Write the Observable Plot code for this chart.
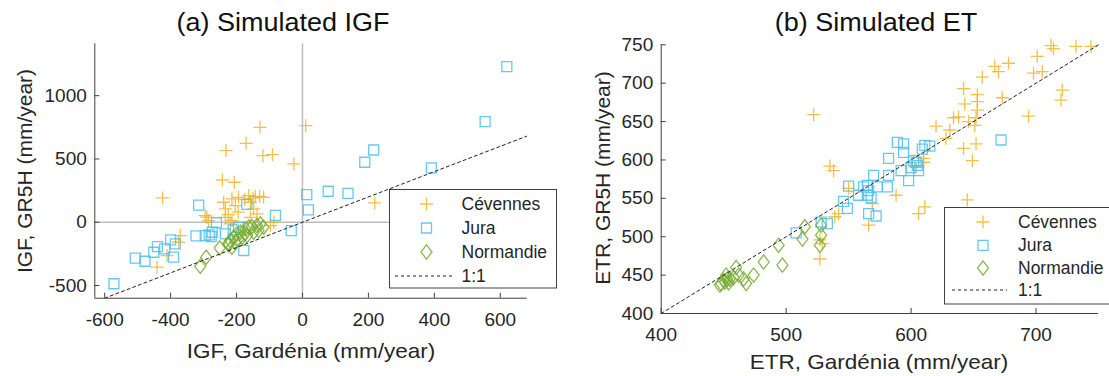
<!DOCTYPE html>
<html><head><meta charset="utf-8">
<script src="https://cdn.jsdelivr.net/npm/d3@7"></script>
<script src="https://cdn.jsdelivr.net/npm/@observablehq/plot@0.6"></script>
<style>
body{margin:0;background:#fff;overflow:hidden;font-family:"Liberation Sans",Arial,sans-serif;color:#262626}
#wrap{position:relative;width:1109px;height:376px;overflow:hidden;background:#fff}
.abs{position:absolute;white-space:nowrap;line-height:1}
.title{font-size:25px;color:#111;transform:translate(-50%,-50%) scaleX(1.08)}
.xlab{font-size:21px;transform:translate(-50%,-50%) scaleX(1.07)}
.ylab{font-size:21px;transform:translate(-50%,-50%) rotate(-90deg)}
.panel{position:absolute;top:0}
</style></head>
<body><div id="wrap"></div>
<script>
// ---------- DATA ----------
const sites = ["Cévennes", "Jura", "Normandie"];
const siteColors = ["#F2B52A", "#4DBEEE", "#77AC30"];

// (a) Simulated IGF (mm/year): x = Gardénia, y = GR5H
const igfCevX = [10,-129,-171,-232,-120,-91,-26,-243,-207,-424,219,-239,-214,-194,-163,-143,-118,-130,-158,-204,-234,-295,-285,-234,-214,-219,-148,-138,-158,-87,-97,-371,-376,-411,-441,-290,-175,-150,-195,-225];
const igfCevY = [763,750,624,566,526,534,461,334,316,193,153,158,185,197,211,203,197,205,158,132,106,53,13,39,13,-13,106,66,39,0,-26,-105,-158,-263,-355,40,180,190,80,60];
const igfJuraX = [620,554,216,189,391,78,138,13,18,-82,-169,-315,-261,-283,-277,-323,-295,-386,-400,-440,-418,-451,-391,-478,-507,-572,-34,-178,-194,-234,-274,-210];
const igfJuraY = [1229,795,571,474,429,245,229,219,98,55,142,136,-4,-99,-113,-107,-105,-171,-139,-192,-210,-237,-276,-308,-284,-486,-66,-223,-39,-92,-79,-60];
const igfNormX = [-310,-292,-251,-224,-219,-209,-199,-188,-173,-163,-153,-138,-128,-118,-204,-214,-183,-168,-194,-148,-133,-225,-175];
const igfNormY = [-348,-276,-204,-178,-144,-118,-92,-79,-52,-39,-34,-26,-13,-39,-158,-197,-118,-105,-131,-79,-66,-165,-90];
const igfOneToOne = [-600, 680];
const igfXTicks = [-600,-400,-200,0,200,400,600];
const igfYTicks = [-500,0,500,1000];
const igfXDomain = [-630, 682];
const igfYDomain = [-600, 1410];

// (b) Simulated ET (mm/year): x = Gardénia, y = GR5H
const etCevX = [744,732,712,714,701,678,667,670,698,705,657,642,653,653,653,652,673,721,720,643,694,638,634,620,646,651,631,628,652,642,649,610,610,603,535,538,522,550,588,645,611,606,542,539,566,569,527,527,529];
const etCevY = [748,748,749,745,735,726,722,715,713,715,708,693,685,676,665,655,681,691,678,673,657,656,655,644,650,645,639,628,621,615,599,602,597,591,592,586,659,563,554,548,539,530,530,526,515,543,496,471,491];
const etJuraX = [589,594,594,582,611,615,609,602,605,606,598,592,582,570,581,573,565,562,566,565,568,558,550,546,549,566,572,533,528,508,672,600,604];
const etJuraY = [623,621,610,602,619,618,614,599,593,586,573,586,580,580,565,565,567,565,560,554,551,554,566,546,537,530,527,517,519,505,626,590,597];
const etNormX = [515,528,513,528,527,494,497,482,474,468,466,460,462,455,452,450,448,447,454,453,451,458];
const etNormY = [513,515,497,502,489,489,463,467,450,439,445,460,450,445,450,443,439,437,440,445,441,447];
const etOneToOne = [400, 750];
const etXTicks = [400,500,600,700];
const etYTicks = [400,450,500,550,600,650,700,750];
const etXDomain = [400, 750];
const etYDomain = [400, 750];

// ---------- SYMBOLS ----------
const plusSym = {draw(c, s){const r=Math.sqrt(s/Math.PI); c.moveTo(-r,0); c.lineTo(r,0); c.moveTo(0,-r); c.lineTo(0,r);}};
const squareSym = {draw(c, s){const r=Math.sqrt(s/Math.PI); c.moveTo(-r,-r); c.lineTo(r,-r); c.lineTo(r,r); c.lineTo(-r,r); c.closePath();}};
const diamondSym = {draw(c, s){const r=Math.sqrt(s/Math.PI); c.moveTo(0,-r*1.3); c.lineTo(r,0); c.lineTo(0,r*1.3); c.lineTo(-r,0); c.closePath();}};
const symbols = [plusSym, squareSym, diamondSym];
const symR = [6.5, 5, 5.5];

const rows = (xs, ys) => xs.map((x, i) => ({x, y: ys[i]}));

function panel({w, ml, mr, mt, mb, xd, yd, xt, yt, series, line, zero}) {
  const dots = series.map((pts, i) => Plot.dot(pts, {x: "x", y: "y", symbol: symbols[i], r: symR[i],
    stroke: siteColors[i], fill: "none", strokeWidth: 1.3, strokeOpacity: 0.85}));
  const fmt = d => String(d);
  return Plot.plot({
    width: w, height: 376, marginLeft: ml, marginRight: mr, marginTop: mt, marginBottom: mb,
    x: {domain: xd, label: null}, y: {domain: yd, label: null},
    style: {fontFamily: '"Liberation Sans", Arial, sans-serif', fontSize: "19px", color: "#262626", background: "transparent", overflow: "visible"},
    marks: [
      zero ? Plot.ruleX([0], {stroke: "#bdbdbd", strokeWidth: 1.5}) : null,
      zero ? Plot.ruleY([0], {stroke: "#bdbdbd", strokeWidth: 1.5}) : null,
      ...dots,
      Plot.line(line, {x: d => d, y: d => d, stroke: "#222", strokeWidth: 1, strokeDasharray: "3,3"}),
      Plot.ruleX([xd[0]], {stroke: "#404040", strokeWidth: 1}),
      Plot.ruleY([yd[0]], {stroke: "#404040", strokeWidth: 1}),
      Plot.axisX(xt, {tickSize: 5, dy: -5, text: null, label: null, stroke: "#404040"}),
      Plot.axisX(xt, {tickSize: 0, tickPadding: 14, label: null, tickFormat: fmt}),
      Plot.axisY(yt, {tickSize: 5, dx: 5, text: null, label: null, stroke: "#404040"}),
      Plot.axisY(yt, {tickSize: 0, tickPadding: 8, label: null, tickFormat: fmt})
    ]
  });
}

const wrap = document.getElementById("wrap");
function place(el, left) { el.classList.add("panel"); el.style.left = left + "px"; wrap.appendChild(el); }

place(panel({w: 560, ml: 94.3, mr: 33.2, mt: 43.3, mb: 78.3, xd: igfXDomain, yd: igfYDomain,
  xt: igfXTicks, yt: igfYTicks, zero: true, line: igfOneToOne,
  series: [rows(igfCevX, igfCevY), rows(igfJuraX, igfJuraY), rows(igfNormX, igfNormY)]}), 0);
place(panel({w: 549, ml: 100.7, mr: 11, mt: 44.3, mb: 63, xd: etXDomain, yd: etYDomain,
  xt: etXTicks, yt: etYTicks, zero: false, line: etOneToOne,
  series: [rows(etCevX, etCevY), rows(etJuraX, etJuraY), rows(etNormX, etNormY)]}), 560);

function label(text, cls, x, y) {
  const d = document.createElement("div"); d.className = "abs " + cls; d.textContent = text;
  d.style.left = x + "px"; d.style.top = y + "px"; wrap.appendChild(d);
}
label("(a) Simulated IGF", "title", 283, 22);
label("(b) Simulated ET", "title", 876, 22);
label("IGF, Gardénia (mm/year)", "xlab", 310.5, 350);
label("ETR, Gardénia (mm/year)", "xlab", 879, 361);
label("IGF, GR5H (mm/year)", "ylab", 24, 171);
label("ETR, GR5H (mm/year)", "ylab", 602, 178);

function legend(left, top, w, h, rowY, mx, tx, d0, d1) {
  const svg = d3.create("svg").attr("width", w + 2).attr("height", h + 2)
    .style("position", "absolute").style("left", left + "px").style("top", top + "px");
  svg.append("rect").attr("x", 0.5).attr("y", 0.5).attr("width", w).attr("height", h)
    .attr("fill", "#fff").attr("stroke", "#404040").attr("stroke-width", 1);
  sites.forEach((s, i) => {
    const sym = d3.symbol(symbols[i], Math.PI * symR[i] * symR[i]);
    svg.append("path").attr("d", sym()).attr("transform", `translate(${mx},${rowY[i]})`)
      .attr("fill", "none").attr("stroke", siteColors[i]).attr("stroke-width", 1.3).attr("stroke-opacity", 0.85);
    svg.append("text").attr("x", tx).attr("y", rowY[i]).attr("dy", "0.35em").text(s)
      .attr("font-size", "17.5px").attr("fill", "#262626").attr("font-family", '"Liberation Sans", Arial, sans-serif');
  });
  svg.append("line").attr("x1", d0).attr("x2", d1).attr("y1", rowY[3]).attr("y2", rowY[3])
    .attr("stroke", "#222").attr("stroke-dasharray", "3,3");
  svg.append("text").attr("x", tx).attr("y", rowY[3]).attr("dy", "0.35em").text("1:1")
    .attr("font-size", "17.5px").attr("fill", "#262626").attr("font-family", '"Liberation Sans", Arial, sans-serif');
  wrap.appendChild(svg.node());
}
legend(388.6, 189, 167, 98.5, [15, 39, 63, 87], 37.5, 72.5, 6, 65);
legend(944, 206.7, 200, 96.5, [15, 38.3, 61, 83], 39, 74, 8, 63);
</script></body></html>
